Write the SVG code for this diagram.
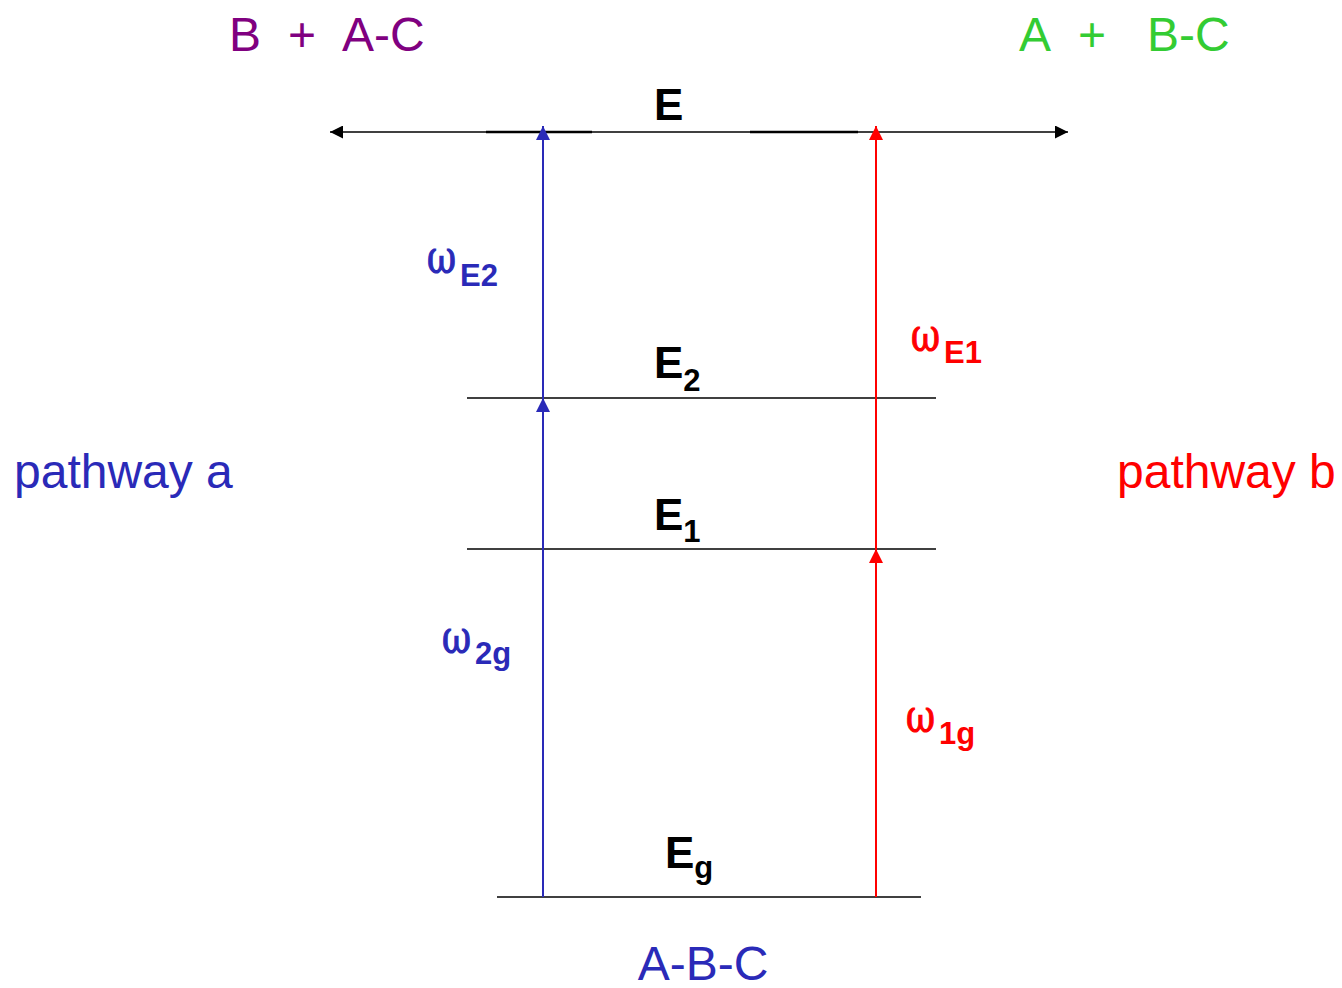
<svg xmlns="http://www.w3.org/2000/svg" width="1342" height="988" viewBox="0 0 1342 988">
<style>
.lvl{stroke:#000;stroke-width:1.6;fill:none}
.big{font-family:"Liberation Sans",Arial,sans-serif;font-size:48px}
.en{font-family:"Liberation Sans",Arial,sans-serif;font-size:44px;font-weight:bold;fill:#000}
.sub{font-family:"Liberation Sans",Arial,sans-serif;font-size:31px;font-weight:bold}
.om{font-family:"DejaVu Serif","Liberation Serif",serif;font-size:46px;stroke-width:1.2}
.blue{fill:#2a2ab8}
.red{fill:#ff0000}
.om.blue{stroke:#2a2ab8}
.om.red{stroke:#ff0000}
</style>
<defs>
<marker id="ab" viewBox="0 0 10 10" refX="10" refY="5" markerWidth="15" markerHeight="13" markerUnits="userSpaceOnUse" orient="auto"><path d="M0,0L10,5L0,10Z" fill="#000"/></marker>
<marker id="ablue" viewBox="0 0 10 10" refX="10" refY="5" markerWidth="16" markerHeight="14" markerUnits="userSpaceOnUse" orient="auto"><path d="M0,0L10,5L0,10Z" fill="#2a2ab8"/></marker>
<marker id="ared" viewBox="0 0 10 10" refX="10" refY="5" markerWidth="16" markerHeight="14" markerUnits="userSpaceOnUse" orient="auto"><path d="M0,0L10,5L0,10Z" fill="#ff0000"/></marker>
</defs>
<g id="levels">
<g id="E"><line x1="486" y1="132" x2="592" y2="132" stroke="#000" stroke-width="2.6"/><line x1="750" y1="132" x2="858" y2="132" stroke="#000" stroke-width="2.6"/><text class="en" x="654" y="120">E</text></g>
<g id="E2"><line class="lvl" x1="467" y1="398" x2="936" y2="398"/><text class="en" x="654" y="378">E<tspan class="sub" dy="13">2</tspan></text></g>
<g id="E1"><line class="lvl" x1="467" y1="549" x2="936" y2="549"/><text class="en" x="654" y="530">E<tspan class="sub" dy="12">1</tspan></text></g>
<g id="Eg"><line class="lvl" x1="497" y1="897" x2="921" y2="897"/><text class="en" x="665" y="868">E<tspan class="sub" dy="10">g</tspan></text></g>
</g>
<g id="connectors">
<line x1="700" y1="132" x2="330" y2="132" stroke="#000" stroke-width="1.6" marker-end="url(#ab)"/>
<line x1="700" y1="132" x2="1068" y2="132" stroke="#000" stroke-width="1.6" marker-end="url(#ab)"/>
<line x1="543" y1="897" x2="543" y2="398" stroke="#2a2ab8" stroke-width="2" marker-end="url(#ablue)"/>
<line x1="543" y1="398" x2="543" y2="126" stroke="#2a2ab8" stroke-width="2" marker-end="url(#ablue)"/>
<line x1="876" y1="897" x2="876" y2="549" stroke="#ff0000" stroke-width="2" marker-end="url(#ared)"/>
<line x1="876" y1="549" x2="876" y2="126" stroke="#ff0000" stroke-width="2" marker-end="url(#ared)"/>
</g>
<g id="reactants">
<text class="big" x="229" y="51" fill="#800080">B</text>
<text class="big" x="288" y="51" fill="#800080">+</text>
<text class="big" x="342" y="51" fill="#800080">A-C</text>
</g>
<g id="products">
<text class="big" x="1019" y="51" fill="#33cc33">A</text>
<text class="big" x="1078" y="51" fill="#33cc33">+</text>
<text class="big" x="1147" y="51" fill="#33cc33">B-C</text>
</g>
<g id="pathway-a"><text class="big blue" x="14" y="488">pathway a</text></g>
<g id="pathway-b"><text class="big red" x="1117" y="488">pathway b</text></g>
<g id="ABC"><text class="big blue" x="703" y="980" text-anchor="middle">A-B-C</text></g>
<g id="wE2"><text class="om blue" x="427" y="273" textLength="29" lengthAdjust="spacingAndGlyphs">ω</text><text class="sub blue" x="460" y="286">E2</text></g>
<g id="wE1"><text class="om red" x="911" y="351" textLength="29" lengthAdjust="spacingAndGlyphs">ω</text><text class="sub red" x="944" y="363">E1</text></g>
<g id="w2g"><text class="om blue" x="442" y="653" textLength="29" lengthAdjust="spacingAndGlyphs">ω</text><text class="sub blue" x="475" y="664">2g</text></g>
<g id="w1g"><text class="om red" x="906" y="732" textLength="29" lengthAdjust="spacingAndGlyphs">ω</text><text class="sub red" x="939" y="744">1g</text></g>
</svg>
